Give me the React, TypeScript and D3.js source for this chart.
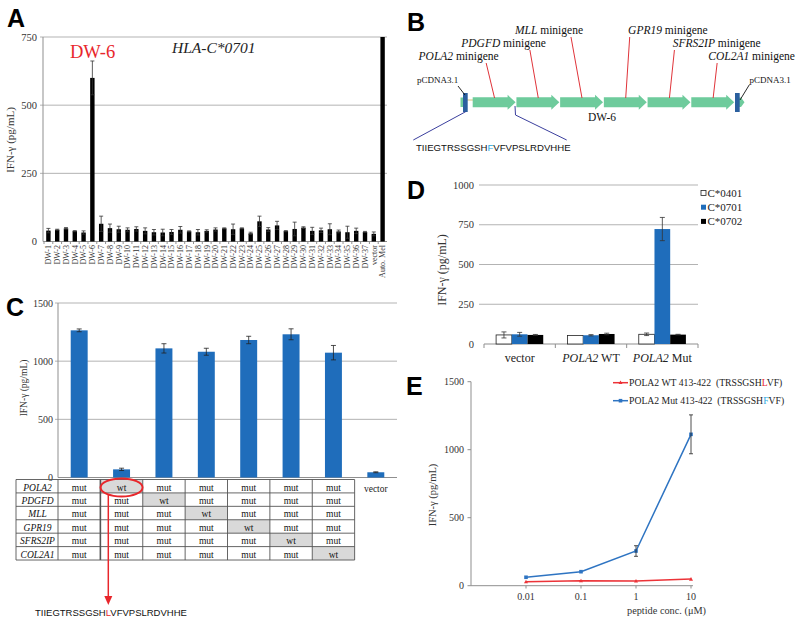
import React from "react";
import * as d3 from "d3";

// ---------- Panel A data ----------
const catsA = [
  "DW-1","DW-2","DW-3","DW-4","DW-5","DW-6","DW-7","DW-8","DW-9","DW-10",
  "DW-11","DW-12","DW-13","DW-14","DW-15","DW-16","DW-17","DW-18","DW-19","DW-20",
  "DW-21","DW-22","DW-23","DW-24","DW-25","DW-26","DW-27","DW-28","DW-29","DW-30",
  "DW-31","DW-32","DW-33","DW-34","DW-35","DW-36","DW-37","vector","Auto. Mel",
];
const valsA = [40,43,48,38,33,600,65,49,45,43,46,39,34,33,35,43,37,34,39,44,48,45,48,30,74,44,59,38,46,51,39,41,45,37,34,39,35,28,750];
const errsA = [8,2,3,2,6,62,28,15,11,7,8,11,10,12,9,12,2,10,4,6,2,19,2,4,19,7,15,2,25,3,13,8,20,5,22,10,2,7,0];
const ticksA = [0, 250, 500, 750];

// ---------- Panel B data ----------
const minigenesB = ["POLA2","PDGFD","MLL","GPR19","SFRS2IP","COL2A1"];

// ---------- Panel C data ----------
const catsC = ["c1","c2","c3","c4","c5","c6","c7","vector"];
const valsC = [1265, 70, 1110, 1081, 1182, 1231, 1073, 45];
const errsC = [12, 10, 40, 30, 32, 47, 62, 4];
const ticksC = [0, 500, 1000, 1500];
const genesC = ["POLA2","PDGFD","MLL","GPR19","SFRS2IP","COL2A1"];
const wtColC = [1, 2, 3, 4, 5, 6];

// ---------- Panel D data ----------
const catsD = ["vector","POLA2 WT","POLA2 Mut"];
const seriesD = ["C*0401","C*0701","C*0702"];
const valsD0401 = [57, 53, 61];
const errsD0401 = [19, 0, 8];
const valsD0701 = [61, 55, 723];
const errsD0701 = [12, 4, 73];
const valsD0702 = [57, 63, 59];
const errsD0702 = [3, 5, 2];
const ticksD = [0, 250, 500, 750, 1000];

// ---------- Panel E data ----------
const concE = [0.01, 0.1, 1, 10];
const concLabelsE = ["0.01","0.1","1","10"];
const wtE = [29, 37, 35, 49];
const mutE = [62, 103, 255, 1113];
const mutErrE = [0, 0, 39, 143];
const ticksE = [0, 500, 1000, 1500];
const legendE = ["POLA2 WT 413-422", "POLA2 Mut 413-422"];

const serif = "'Liberation Serif','Times New Roman',serif";
const sans = "'Liberation Sans',Arial,sans-serif";
const gridC = "#b3b3b3";
const axisC = "#8f8f8f";
const blue = "#1f6dbb";
const red = "#e8262b";

function ErrBar({ x, y1, y2, cap = 2, color = "#000", sw = 0.8 }: any) {
  return (
    <g stroke={color} strokeWidth={sw}>
      <line x1={x} x2={x} y1={y1} y2={y2} />
      <line x1={x - cap} x2={x + cap} y1={y1} y2={y1} />
      <line x1={x - cap} x2={x + cap} y1={y2} y2={y2} />
    </g>
  );
}

export default function App() {
  // ---- A ----
  const xA = d3.scaleBand().domain(catsA).range([44, 387]).paddingInner(0.5).paddingOuter(0.25);
  const yA = d3.scaleLinear().domain([0, 750]).range([241.5, 37]);

  // ---- B ----
  const xB = d3.scaleLinear().domain([0, 6]).range([472.7, 735]);
  const cyB = 102.3;
  const labB = [
    { dx: -76, by: 60, lx: -8.4, ly: 63 },
    { dx: -77, by: 47, lx: -8.4, ly: 50 },
    { dx: -67, by: 34, lx: -11, ly: 37 },
    { dx: 2.4, by: 34, lx: 4, ly: 37 },
    { dx: 3.4, by: 47, lx: 5, ly: 50 },
    { dx: -4.8, by: 60, lx: 4, ly: 63 },
  ];

  // ---- C ----
  const xC = d3.scaleBand().domain(catsC).range([58, 397]).paddingInner(0.6).paddingOuter(0.3);
  const yC = d3.scaleLinear().domain([0, 1500]).range([477.5, 303]);
  const stepC = xC.step();
  const colEdge = (i: number) => xC(catsC[i])! - (stepC * 0.6) / 2;
  const rowH = 13.42;
  const tableTop = 479.5;

  // ---- D ----
  const x0D = d3.scaleBand().domain(catsD).range([484, 698]).padding(0);
  const x1D = d3.scaleBand().domain(seriesD).range([0, x0D.bandwidth()]).paddingOuter(0.77).paddingInner(0);
  const yD = d3.scaleLinear().domain([0, 1000]).range([344, 185]);
  const dSeries = [
    { key: seriesD[0], vals: valsD0401, errs: errsD0401, fill: "#fff", stroke: "#222" },
    { key: seriesD[1], vals: valsD0701, errs: errsD0701, fill: blue, stroke: "none" },
    { key: seriesD[2], vals: valsD0702, errs: errsD0702, fill: "#000", stroke: "none" },
  ];

  // ---- E ----
  const xE = d3.scaleLog().domain([0.001, 10]).range([471, 691]);
  const yE = d3.scaleLinear().domain([0, 1500]).range([585.7, 381.7]);
  const lineE = d3.line<number>().x((_, i) => xE(concE[i])).y((v) => yE(v));
  const blueE = "#2e74c2";
  const redE = "#ec3338";

  const letter = (t: string, x: number, y: number) => (
    <text x={x} y={y} fontFamily={sans} fontWeight="bold" fontSize={25} fill="#000">{t}</text>
  );

  return (
    <svg width={800} height={624} style={{ position: "absolute", left: 0, top: 0, background: "#fff" }} fontFamily={serif}>
      <rect width={800} height={624} fill="#fff" />
      {/* ================= PANEL A ================= */}
      {letter("A", 7, 27)}
      {ticksA.filter((t) => t > 0).map((t) => (
        <line key={t} x1={40} x2={387} y1={yA(t)} y2={yA(t)} stroke={gridC} strokeWidth={1} />
      ))}
      <line x1={43} x2={43} y1={37} y2={241.5} stroke={axisC} />
      <line x1={43} x2={387} y1={241.5} y2={241.5} stroke={axisC} />
      {catsA.map((c, i) => (
        <line key={"ta" + i} x1={xA(c)! - (xA.step() * 0.5) / 2} x2={xA(c)! - (xA.step() * 0.5) / 2} y1={241.5} y2={244} stroke={axisC} />
      ))}
      {ticksA.map((t) => (
        <text key={t} x={37} y={yA(t)} dy="0.35em" textAnchor="end" fontSize={10.5} fill="#333">{t}</text>
      ))}
      {catsA.map((c, i) => {
        const x = xA(c)!;
        const w = xA.bandwidth();
        const cx = x + w / 2;
        return (
          <g key={c}>
            <rect x={x} y={yA(valsA[i])} width={w} height={yA(0) - yA(valsA[i])} fill="#000" />
            {errsA[i] > 0 && <ErrBar x={cx} y1={yA(valsA[i] + errsA[i])} y2={yA(Math.max(0, valsA[i] - errsA[i]))} cap={2} color="#333" />}
            <text transform={`translate(${cx},245) rotate(-90)`} dy="0.35em" textAnchor="end" fontSize={8} fill="#333">{c}</text>
          </g>
        );
      })}
      <text transform="translate(14,140) rotate(-90)" textAnchor="middle" fontSize={11} fill="#333">IFN-γ (pg/mL)</text>
      <text x={70} y={58} fontSize={18.5} fill={red}>DW-6</text>
      <text x={172} y={53} fontSize={15.5} fontStyle="italic" fill="#222">HLA-C*0701</text>

      {/* ================= PANEL B ================= */}
      {letter("B", 407, 31)}
      <rect x={460.5} y={97.5} width={4} height={9.5} fill="#6ecb9c" />
      <line x1={467} x2={473} y1={100} y2={100} stroke="#d9c27a" strokeWidth={1} />
      {minigenesB.map((g, i) => {
        const x0 = xB(i);
        const x1 = xB(i + 1) - 0.8;
        const hl = 8;
        const pts = [
          [x0, cyB - 5], [x1 - hl, cyB - 5], [x1 - hl, cyB - 7.5], [x1, cyB],
          [x1 - hl, cyB + 7.5], [x1 - hl, cyB + 5], [x0, cyB + 5],
        ].map((p) => p.join(",")).join(" ");
        return <polygon key={g} points={pts} fill="#6ecb9c" />;
      })}
      <polygon points={`739,97.5 741,97.5 744.5,102.3 741,107 739,107`} fill="#6ecb9c" />
      <rect x={463} y={93} width={4.7} height={19} fill="#2b5f9e" />
      <rect x={735} y={93} width={4.7} height={19} fill="#2b5f9e" />
      {minigenesB.map((g, i) => {
        const mid = (xB(i) + xB(i + 1)) / 2;
        const L = labB[i];
        return (
          <g key={"lab" + g}>
            <line x1={mid + L.lx} y1={L.ly} x2={mid} y2={98} stroke="#e0343a" strokeWidth={1} />
            <text x={mid + L.dx} y={L.by} fontSize={11.5} fill="#111">
              <tspan fontStyle="italic">{g}</tspan>
              <tspan>{" minigene"}</tspan>
            </text>
          </g>
        );
      })}
      <text x={417} y={83} fontSize={9} fill="#111">pCDNA3.1</text>
      <line x1={458} y1={86} x2={465} y2={95} stroke="#111" strokeWidth={0.9} />
      <text x={749.5} y={83} fontSize={9} fill="#111">pCDNA3.1</text>
      <line x1={740} y1={100} x2={749.5} y2={84.5} stroke="#111" strokeWidth={0.9} />
      <text x={588} y={120.7} fontSize={11.5} fill="#111">DW-6</text>
      <g stroke="#3b3f9e" strokeWidth={1} fill="none">
        <line x1={465.7} y1={111.7} x2={413.3} y2={140} />
        <polyline points="515,106 515.5,115 566.7,140" />
      </g>
      <text x={416} y={150.7} fontFamily={sans} fontSize={9.6} fill="#111">
        <tspan>TIIEGTRSSGSH</tspan>
        <tspan fill="#29a8e0">F</tspan>
        <tspan>VFVPSLRDVHHE</tspan>
      </text>

      {/* ================= PANEL C ================= */}
      {letter("C", 6, 316)}
      {ticksC.filter((t) => t > 0).map((t) => (
        <line key={t} x1={55} x2={397} y1={yC(t)} y2={yC(t)} stroke={gridC} />
      ))}
      <line x1={58} x2={58} y1={303} y2={477.5} stroke={axisC} />
      <line x1={58} x2={397} y1={477.5} y2={477.5} stroke={axisC} />
      {ticksC.map((t) => (
        <text key={t} x={53} y={yC(t)} dy="0.35em" textAnchor="end" fontSize={10} fill="#333">{t}</text>
      ))}
      <text transform="translate(27,388) rotate(-90)" textAnchor="middle" fontSize={9.5} fill="#333">IFN-γ (pg/mL)</text>
      {catsC.map((c, i) => {
        const x = xC(c)!;
        const w = xC.bandwidth();
        return (
          <g key={c}>
            <rect x={x} y={yC(valsC[i])} width={w} height={yC(0) - yC(valsC[i])} fill={blue} />
            <ErrBar x={x + w / 2} y1={yC(valsC[i] + errsC[i])} y2={yC(valsC[i] - errsC[i])} cap={2.5} color="#222" />
          </g>
        );
      })}
      <text x={xC("vector")! + xC.bandwidth() / 2} y={491.5} textAnchor="middle" fontSize={9.5} fill="#222">vector</text>
      {/* table */}
      {genesC.map((g, r) => {
        const y0 = tableTop + r * rowH;
        return (
          <g key={"row" + g}>
            {d3.range(7).map((c) => (
              wtColC[r] === c ? <rect key={c} x={colEdge(c)} y={y0} width={stepC} height={rowH} fill="#d9d9d9" /> : null
            ))}
            <text x={37.5} y={y0 + 11} textAnchor="middle" fontStyle="italic" fontSize={9.5} fill="#111">{g}</text>
            {d3.range(7).map((c) => (
              <text key={"t" + c} x={colEdge(c) + stepC / 2} y={y0 + 11} textAnchor="middle" fontSize={9.5} fill="#111">
                {wtColC[r] === c ? "wt" : "mut"}
              </text>
            ))}
          </g>
        );
      })}
      <g stroke="#555" strokeWidth={0.9} fill="none">
        {d3.range(7).map((r) => (
          <line key={"h" + r} x1={16} x2={colEdge(0) + stepC * 7} y1={tableTop + r * rowH} y2={tableTop + r * rowH} />
        ))}
        <line x1={16} x2={16} y1={tableTop} y2={tableTop + 6 * rowH} />
        {d3.range(8).map((c) => (
          <line key={"v" + c} x1={colEdge(0) + c * stepC} x2={colEdge(0) + c * stepC} y1={tableTop} y2={tableTop + 6 * rowH} strokeWidth={c === 1 ? 1.6 : 0.9} />
        ))}
      </g>
      <ellipse cx={colEdge(1) + stepC / 2} cy={487.5} rx={21} ry={9} fill="none" stroke={red} strokeWidth={2} />
      <line x1={108.3} x2={108.3} y1={494.5} y2={598} stroke={red} strokeWidth={1.5} />
      <polygon points="104.3,596 112.3,596 108.3,605" fill={red} />
      <text x={35} y={616} fontFamily={sans} fontSize={9.5} fill="#111">
        <tspan>TIIEGTRSSGSH</tspan>
        <tspan fill={red}>L</tspan>
        <tspan>VFVPSLRDVHHE</tspan>
      </text>

      {/* ================= PANEL D ================= */}
      {letter("D", 407, 199)}
      {ticksD.filter((t) => t > 0).map((t) => (
        <line key={t} x1={479} x2={698} y1={yD(t)} y2={yD(t)} stroke={gridC} />
      ))}
      <line x1={484} x2={698} y1={344} y2={344} stroke={axisC} />
      {d3.range(4).map((i) => (
        <line key={"td" + i} x1={484 + i * x0D.step()} x2={484 + i * x0D.step()} y1={344} y2={348} stroke={axisC} />
      ))}
      {ticksD.map((t) => (
        <text key={t} x={474} y={yD(t)} dy="0.35em" textAnchor="end" fontSize={10.5} fill="#333">{t}</text>
      ))}
      <text transform="translate(446,270) rotate(-90)" textAnchor="middle" fontSize={12} fill="#333">IFN-γ (pg/mL)</text>
      {catsD.map((c, ci) => (
        <g key={c}>
          {dSeries.map((s) => {
            const x = x0D(c)! + x1D(s.key)!;
            const w = x1D.bandwidth();
            const v = s.vals[ci];
            return (
              <g key={s.key}>
                <rect x={x} y={yD(v)} width={w} height={yD(0) - yD(v)} fill={s.fill} stroke={s.stroke} strokeWidth={0.8} />
                {s.errs[ci] > 0 && <ErrBar x={x + w / 2} y1={yD(v + s.errs[ci])} y2={yD(v - s.errs[ci])} cap={2.5} color="#333" />}
              </g>
            );
          })}
        </g>
      ))}
      {catsD.map((c) => {
        const cx = x0D(c)! + x0D.bandwidth() / 2;
        const parts = c.split(" ");
        return (
          <text key={"l" + c} x={cx} y={362} textAnchor="middle" fontSize={12} fill="#222">
            {parts.length === 1 ? c : (
              <>
                <tspan fontStyle="italic">{parts[0]}</tspan>
                <tspan>{" " + parts[1]}</tspan>
              </>
            )}
          </text>
        );
      })}
      {dSeries.map((s, i) => (
        <g key={"lg" + s.key}>
          <rect x={701} y={190.5 + i * 14.2} width={5} height={5} fill={s.fill} stroke={s.fill === "#fff" ? "#222" : "none"} strokeWidth={0.8} />
          <text x={707.5} y={196.5 + i * 14.2} fontSize={11} fill="#222">{s.key}</text>
        </g>
      ))}

      {/* ================= PANEL E ================= */}
      {letter("E", 406, 395)}
      <line x1={471} x2={471} y1={381.7} y2={585.7} stroke={axisC} />
      <line x1={471} x2={693} y1={585.7} y2={585.7} stroke={axisC} />
      {ticksE.map((t) => (
        <g key={t}>
          <line x1={467.5} x2={471} y1={yE(t)} y2={yE(t)} stroke={axisC} />
          <text x={464} y={yE(t)} dy="0.35em" textAnchor="end" fontSize={10} fill="#333">{t}</text>
        </g>
      ))}
      {concE.map((c, i) => (
        <g key={c}>
          <line x1={xE(c)} x2={xE(c)} y1={585.7} y2={588.5} stroke={axisC} />
          <text x={xE(c)} y={600} textAnchor="middle" fontSize={10} fill="#333">{concLabelsE[i]}</text>
        </g>
      ))}
      <text x={627} y={614} fontSize={10.3} fill="#333">peptide conc. (μM)</text>
      <text transform="translate(436,495) rotate(-90)" textAnchor="middle" fontSize={10.5} fill="#333">IFN-γ (pg/mL)</text>
      <path d={lineE(wtE) || ""} fill="none" stroke={redE} strokeWidth={1.5} />
      <path d={lineE(mutE) || ""} fill="none" stroke={blueE} strokeWidth={1.5} />
      {wtE.map((v, i) => (
        <polygon key={"wm" + i} points={`${xE(concE[i]) - 2},${yE(v) + 1.6} ${xE(concE[i]) + 2},${yE(v) + 1.6} ${xE(concE[i])},${yE(v) - 2}`} fill={redE} />
      ))}
      {mutE.map((v, i) => (
        <g key={"bm" + i}>
          <rect x={xE(concE[i]) - 1.8} y={yE(v) - 1.8} width={3.6} height={3.6} fill={blueE} />
          {mutErrE[i] > 0 && <ErrBar x={xE(concE[i])} y1={yE(v + mutErrE[i])} y2={yE(v - mutErrE[i])} cap={2} color="#222" />}
        </g>
      ))}
      <line x1={613} x2={628} y1={382.7} y2={382.7} stroke={redE} strokeWidth={1.5} />
      <polygon points="618.5,384 622.5,384 620.5,380.5" fill={redE} />
      <text x={629} y={386} fontSize={9.7} fill="#222">
        <tspan>{legendE[0] + " "}</tspan>
        <tspan dx={2.5}>(TRSSGSH</tspan>
        <tspan fill={red}>L</tspan>
        <tspan>VF)</tspan>
      </text>
      <line x1={613} x2={628} y1={400.7} y2={400.7} stroke={blueE} strokeWidth={1.5} />
      <rect x={618.7} y={398.9} width={3.6} height={3.6} fill={blueE} />
      <text x={629} y={404} fontSize={9.7} fill="#222">
        <tspan>{legendE[1] + " "}</tspan>
        <tspan dx={2.5}>(TRSSGSH</tspan>
        <tspan fill="#29a8e0">F</tspan>
        <tspan>VF)</tspan>
      </text>
    </svg>
  );
}
